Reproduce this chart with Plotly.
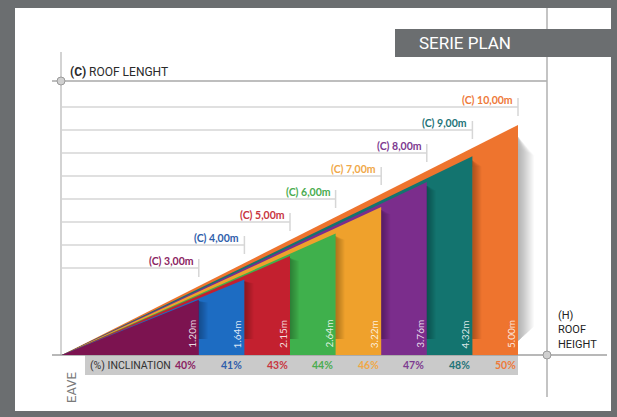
import plotly.graph_objects as go

# roof length (C, m), roof height (H, m) and inclination for each model
lengths = [3, 4, 5, 6, 7, 8, 9, 10]
heights = [1.20, 1.64, 2.15, 2.64, 3.22, 3.76, 4.32, 5.00]
inclination = [40, 41, 43, 44, 46, 47, 48, 50]
length_labels = ["(C) 3,00m", "(C) 4,00m", "(C) 5,00m", "(C) 6,00m",
                 "(C) 7,00m", "(C) 8,00m", "(C) 9,00m", "(C) 10,00m"]
height_labels = ["1.20m", "1.64m", "2.15m", "2.64m", "3.22m", "3.76m", "4.32m", "5.00m"]
fill_colors = ["#7c1350", "#1d6cc2", "#c3202f", "#3fb04c",
               "#efa12c", "#7b2d8c", "#13746f", "#ee742e"]
text_colors = ["#8b2462", "#2f5eab", "#c8363f", "#4aac4f",
               "#f0a848", "#7d3a90", "#1f7478", "#ee7a3a"]

W, H_FIG = 617, 417
# pixel geometry of the drawing
OX, OY = 62, 355          # origin of the roof drawing
SX, SY = 45.6, 46.0       # px per metre


def px(x):
    return x / W


def py(y):
    return 1 - y / H_FIG


fig = go.Figure()

# soft drop shadow behind the tallest section
for k in range(1, 17):
    fig.add_trace(go.Scatter(
        x=[lengths[-1], lengths[-1] + k / SX, lengths[-1] + k / SX, lengths[-1]],
        y=[heights[-1] * 0.95, heights[-1] * 0.9 - k * 0.01, 0.3 + k * 0.02, 0.3],
        fill="toself", mode="lines", line_width=0,
        fillcolor="rgba(0,0,0,0.02)", hoverinfo="skip", showlegend=False))

# roof triangles, biggest first so the smaller ones sit in front
for c, h, col in reversed(list(zip(lengths, heights, fill_colors))):
    fig.add_trace(go.Scatter(
        x=[0, c, c, 0], y=[0, 0, h, 0], fill="toself", mode="lines",
        line_width=0, fillcolor=col, hoverinfo="skip", showlegend=False))

# small shadows cast by each section on the one behind it
for i in range(len(lengths) - 1):
    c = lengths[i]
    for k in range(1, 10):
        fig.add_trace(go.Scatter(
            x=[c, c + k / SX, c + k / SX, c],
            y=[heights[i] * 0.98, heights[i] * 0.95, 0.35, 0.35],
            fill="toself", mode="lines", line_width=0,
            fillcolor="rgba(0,0,0,0.03)", hoverinfo="skip", showlegend=False))

shapes = []
# frame
shapes.append(dict(type="rect", xref="paper", yref="paper", x0=px(15), x1=px(611),
                   y0=py(411), y1=py(8), fillcolor="white", line_width=0, layer="below"))
grey = "#c4c4c4"
shapes += [
    dict(type="line", xref="paper", yref="paper", x0=px(61), x1=px(61), y0=py(52), y1=py(355),
         line=dict(color=grey, width=1.5), layer="below"),
    dict(type="line", xref="paper", yref="paper", x0=px(52), x1=px(547), y0=py(81), y1=py(81),
         line=dict(color="#a8a8a8", width=1.5), layer="below"),
    dict(type="line", xref="paper", yref="paper", x0=px(547), x1=px(547), y0=py(8), y1=py(397),
         line=dict(color="#b0b0b0", width=1.5), layer="below"),
    dict(type="rect", xref="paper", yref="paper", x0=px(85), x1=px(518), y0=py(375), y1=py(355),
         fillcolor="#cacaca", line_width=0, layer="below"),
    dict(type="line", xref="paper", yref="paper", x0=px(52), x1=px(607), y0=py(355), y1=py(355),
         line=dict(color="#a0a0a0", width=1.5), layer="below"),
    dict(type="circle", xref="paper", yref="paper", x0=px(57), x1=px(65), y0=py(85), y1=py(77),
         fillcolor="#d0d0d0", line=dict(color="#9a9a9a", width=1)),
    dict(type="circle", xref="paper", yref="paper", x0=px(543), x1=px(551), y0=py(359), y1=py(351),
         fillcolor="#d0d0d0", line=dict(color="#9a9a9a", width=1)),
    dict(type="rect", xref="paper", yref="paper", x0=px(395), x1=1, y0=py(57), y1=py(29),
         fillcolor="#6b6e70", line_width=0),
]

annotations = []
# length guide lines with a tick at the end of each
for i, c in enumerate(lengths):
    yl = 1.891 + 0.5 * (c - lengths[0])
    shapes.append(dict(type="line", x0=0, x1=c, y0=yl, y1=yl,
                       line=dict(color="#d6d6d6", width=1.5), layer="below"))
    shapes.append(dict(type="line", x0=c, x1=c, y0=yl - 9 / SY, y1=yl + 9 / SY,
                       line=dict(color="#d6d6d6", width=1.5), layer="below"))
    annotations.append(dict(x=c - 3 / SX, y=yl, text="<b>%s</b>" % length_labels[i],
                            xanchor="right", yanchor="bottom", showarrow=False, yshift=-1,
                            font=dict(family="Lato", size=10.5, color=text_colors[i])))
    annotations.append(dict(x=c - 7 / SX, y=5 / SY, text=height_labels[i], textangle=-90,
                            xanchor="center", yanchor="bottom", showarrow=False,
                            font=dict(family="Lato", size=10, color="rgba(255,255,255,0.85)")))
    annotations.append(dict(x=c - 13 / SX, y=-10 / SY, text="<b>%d%%</b>" % inclination[i],
                            xanchor="center", yanchor="middle", showarrow=False,
                            font=dict(family="Lato", size=10.5, color=text_colors[i])))

annotations += [
    dict(xref="paper", yref="paper", x=px(68), y=py(72), text="<b>(C)</b> ROOF LENGHT",
         xanchor="left", yanchor="middle", showarrow=False,
         font=dict(family="Roboto", size=12, color="#2a2a2a")),
    dict(xref="paper", yref="paper", x=px(88), y=py(365), text="(%) INCLINATION",
         xanchor="left", yanchor="middle", showarrow=False,
         font=dict(family="Roboto", size=10.5, color="#333333")),
    dict(xref="paper", yref="paper", x=px(556), y=py(330), text="(H)<br>ROOF<br>HEIGHT",
         xanchor="left", yanchor="middle", align="left", showarrow=False,
         font=dict(family="Roboto", size=11, color="#222222")),
    dict(xref="paper", yref="paper", x=px(71), y=py(388), text="EAVE", textangle=-90,
         xanchor="center", yanchor="middle", showarrow=False,
         font=dict(family="Roboto", size=13, color="#7a7a7a")),
    dict(xref="paper", yref="paper", x=px(417), y=py(43), text="SERIE PLAN",
         xanchor="left", yanchor="middle", showarrow=False,
         font=dict(family="Roboto", size=17, color="white")),
]

fig.update_layout(
    width=W, height=H_FIG,
    margin=dict(l=0, r=0, t=0, b=0, pad=0),
    paper_bgcolor="#6b6e70", plot_bgcolor="rgba(0,0,0,0)",
    xaxis=dict(range=[-OX / SX, (W - OX) / SX], visible=False, fixedrange=True),
    yaxis=dict(range=[-(H_FIG - OY) / SY, OY / SY], visible=False, fixedrange=True),
    shapes=shapes, annotations=annotations, showlegend=False,
)

# drop the page's default body margin so the figure sits at the window corner
fig.write_html("out.html", config=dict(displayModeBar=False),
               post_script="document.body.style.margin='0';document.body.style.overflow='hidden';")
